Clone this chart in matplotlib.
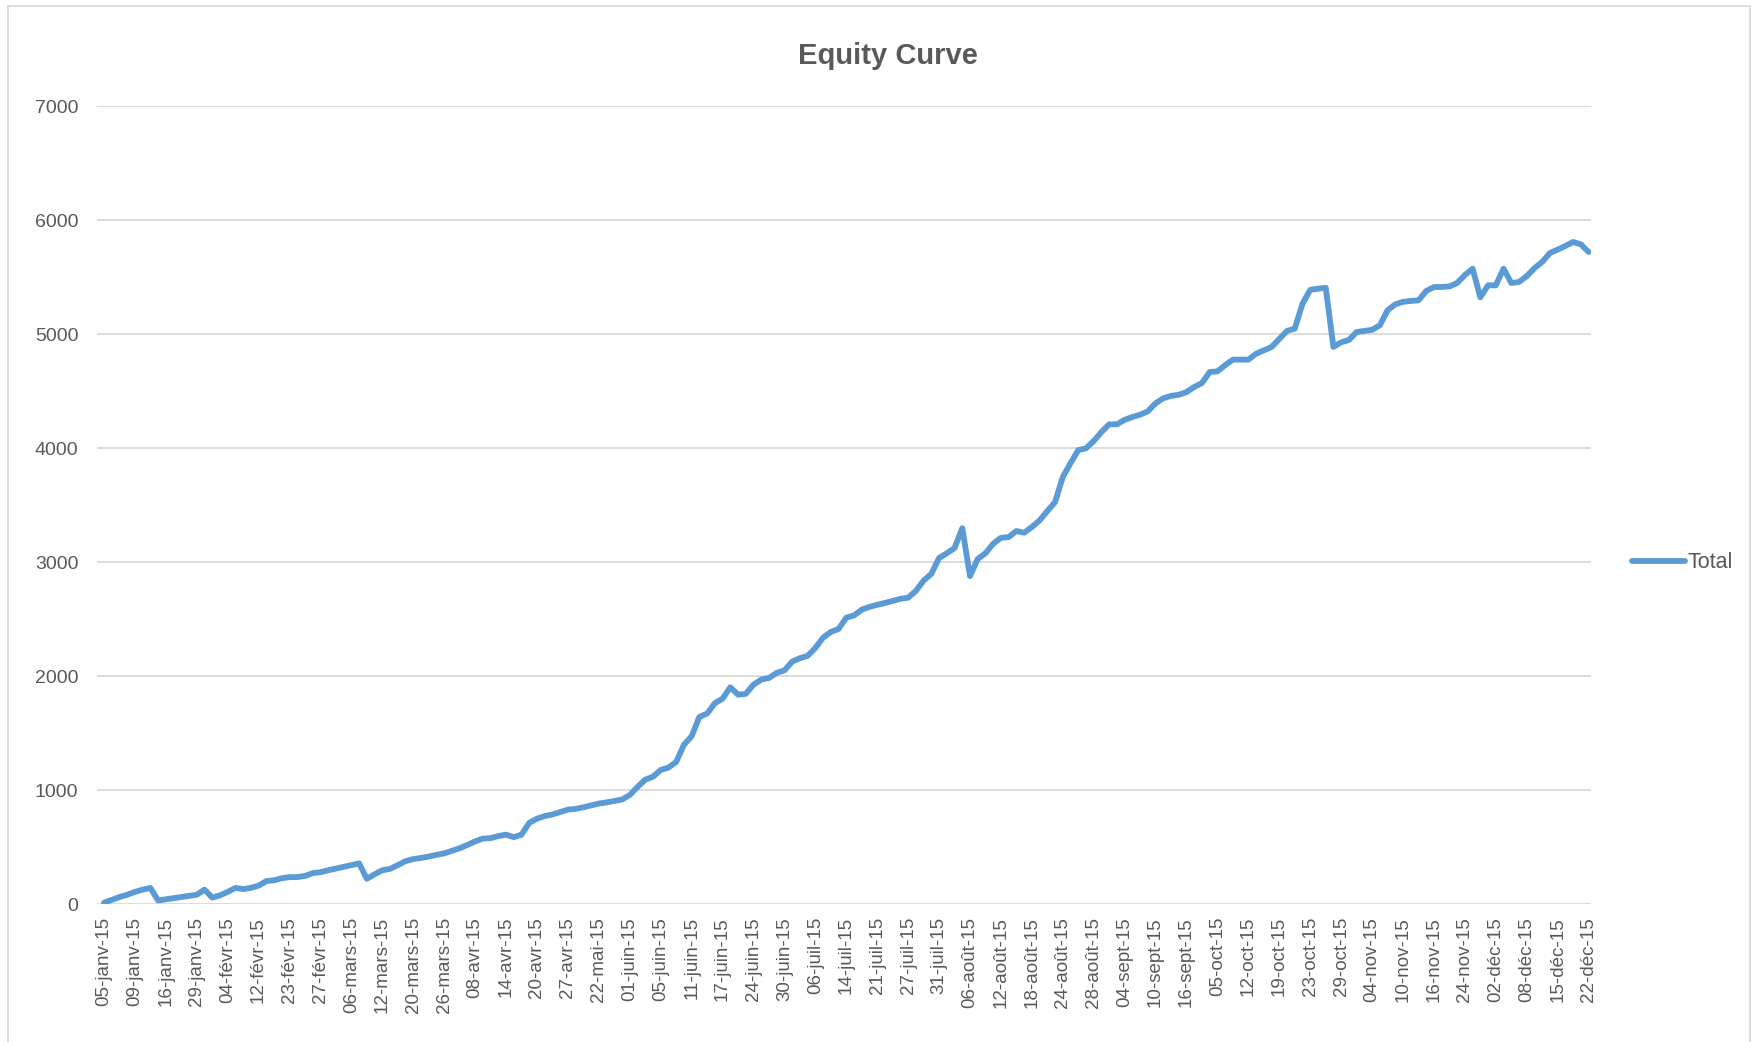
import matplotlib.pyplot as plt
from matplotlib.patches import Rectangle

# tick labels (one every 4 points)
date_labels = [
    "05-janv-15", "09-janv-15", "16-janv-15", "29-janv-15", "04-févr-15", "12-févr-15",
    "23-févr-15", "27-févr-15", "06-mars-15", "12-mars-15", "20-mars-15", "26-mars-15",
    "08-avr-15", "14-avr-15", "20-avr-15", "27-avr-15", "22-mai-15", "01-juin-15",
    "05-juin-15", "11-juin-15", "17-juin-15", "24-juin-15", "30-juin-15", "06-juil-15",
    "14-juil-15", "21-juil-15", "27-juil-15", "31-juil-15", "06-août-15", "12-août-15",
    "18-août-15", "24-août-15", "28-août-15", "04-sept-15", "10-sept-15", "16-sept-15",
    "05-oct-15", "12-oct-15", "19-oct-15", "23-oct-15", "29-oct-15", "04-nov-15",
    "10-nov-15", "16-nov-15", "24-nov-15", "02-déc-15", "08-déc-15", "15-déc-15",
    "22-déc-15",
]
label_step = 4

total = [
    15, 40, 65, 85, 110, 130, 145, 35, 45, 55,
    65, 75, 85, 130, 60, 80, 110, 145, 135, 145,
    165, 205, 212, 230, 240, 240, 250, 275, 283, 300,
    315, 330, 345, 360, 225, 265, 300, 312, 345, 380,
    398, 408, 420, 435, 448, 470, 493, 522, 553, 578,
    582, 600, 612, 590, 612, 716, 752, 775, 789, 810,
    832, 838, 852, 868, 885, 895, 908, 920, 960, 1030,
    1095, 1120, 1180, 1200, 1250, 1400, 1475, 1645, 1674, 1765,
    1805, 1905, 1840, 1847, 1928, 1972, 1986, 2031, 2053, 2130,
    2160, 2180, 2250, 2340, 2390, 2416, 2515, 2535, 2585, 2610,
    2628, 2644, 2662, 2680, 2690, 2750, 2840, 2900, 3038, 3080,
    3126, 3300, 2880, 3030, 3080, 3164, 3215, 3222, 3275, 3260,
    3310, 3368, 3450, 3529, 3749, 3870, 3985, 4000, 4064, 4143,
    4211, 4211, 4250, 4275, 4295, 4325, 4395, 4440, 4460, 4470,
    4494, 4538, 4573, 4670, 4675, 4730, 4778, 4778, 4778, 4830,
    4860, 4889, 4960, 5030, 5050, 5269, 5390, 5400, 5409, 4889,
    4930, 4950, 5020, 5030, 5040, 5079, 5211, 5263, 5285, 5293,
    5298, 5380, 5415, 5415, 5420, 5450, 5520, 5576, 5325, 5430,
    5430, 5576, 5450, 5459, 5510, 5580, 5635, 5713, 5743, 5775,
    5810, 5789, 5722,
]

plt.rcParams['font.family'] = ['Liberation Sans', 'DejaVu Sans']
grey = "#595959"

fig = plt.figure(figsize=(17.51, 10.42), dpi=100)
ax = fig.add_axes([0.0554, 0.132, 0.853, 0.766])

x = list(range(len(total)))
line, = ax.plot(x, total, color="#5B9BD5", linewidth=4.2,
                solid_joinstyle="round", solid_capstyle="round", label="Total")

ax.set_xlim(-0.9, len(total) - 1 + 0.26)
ax.set_ylim(0, 7000)
ax.set_yticks(range(0, 7001, 1000))
ax.set_xticks(range(0, len(total), label_step))
ax.set_xticklabels(date_labels, rotation=90, fontsize=13.5, color=grey)
ax.tick_params(axis="y", length=0, pad=13.5, labelsize=14, labelcolor=grey)
ax.tick_params(axis="x", length=0, pad=9)
ax.grid(axis="y", color="#d9d9d9", linewidth=1.3)
ax.set_axisbelow(True)
for s in ax.spines.values():
    s.set_visible(False)

fig.text(0.507, 0.946, "Equity Curve", ha="center", va="center",
         fontsize=21, fontweight="bold", color=grey)

fig.legend(handles=[line], loc="center left", bbox_to_anchor=(1632 / 1751, 1 - 563 / 1042),
           frameon=False, fontsize=15.5, handlelength=2.45, handletextpad=0.15,
           borderpad=0, borderaxespad=0, labelcolor=grey)

fig.patches.append(Rectangle((8 / 1751, -0.01), 1 - 9 / 1751, 1.01 - 6 / 1042,
                             transform=fig.transFigure, fill=False,
                             edgecolor="#d9d9d9", linewidth=1.3))

fig.savefig("out.png", dpi=100)
